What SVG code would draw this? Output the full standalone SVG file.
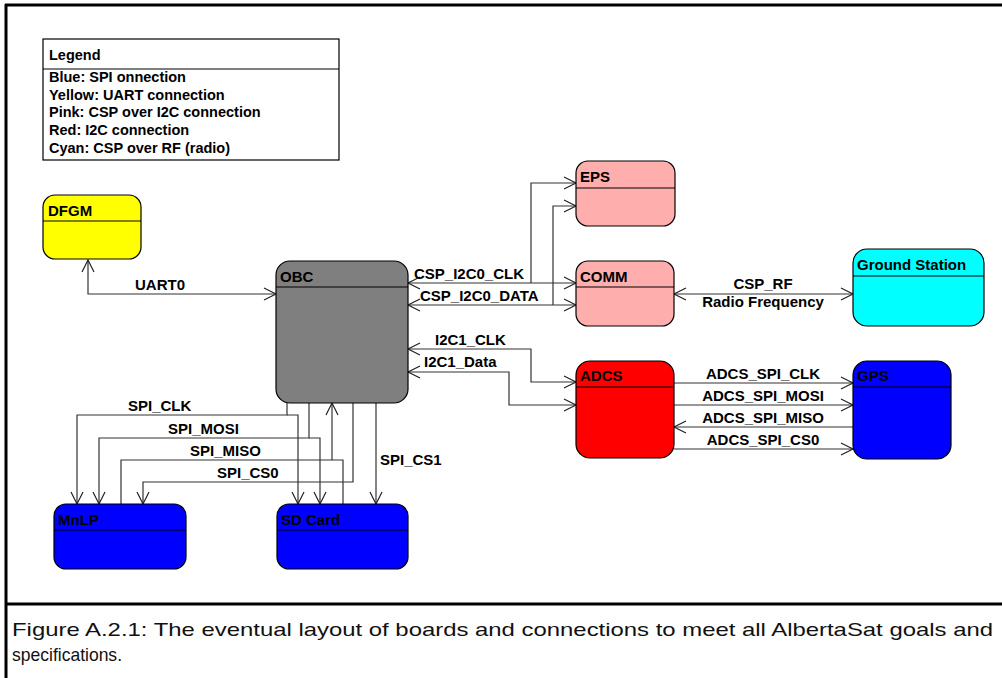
<svg xmlns="http://www.w3.org/2000/svg" width="1002" height="678" viewBox="0 0 1002 678">
  <style>
    .node rect { stroke: #000; stroke-width: 1.2; }
    .node line { stroke: #000; stroke-width: 1.2; }
    .ttl { font-family: "Liberation Sans", Arial, sans-serif; font-size: 15px; font-weight: bold; fill: #000; }
    .lbl { font-family: "Liberation Sans", Arial, sans-serif; font-size: 15px; font-weight: bold; fill: #000; }
    .lgd { font-family: "Liberation Sans", Arial, sans-serif; font-size: 14.5px; font-weight: bold; fill: #000; }
    .cap { font-family: "Liberation Sans", Arial, sans-serif; font-size: 19px; fill: #111; }
    .wire { fill: none; stroke: #333; stroke-width: 1.2; }
    .frame { stroke: #000; stroke-width: 3; fill: none; }
  </style>
  <defs>
    <marker id="arr" markerUnits="userSpaceOnUse" markerWidth="16" markerHeight="16" refX="13" refY="7" orient="auto-start-reverse">
      <path d="M1,1 L13,7 L1,13" fill="none" stroke="#222" stroke-width="1.2"/>
    </marker>
  </defs>

  <rect x="0" y="0" width="1002" height="678" fill="#fff"/>

  <!-- page frame -->
  <g id="frame">
    <line class="frame" x1="5" y1="5" x2="1002" y2="5"/>
    <line class="frame" x1="6" y1="4" x2="6" y2="678"/>
    <line class="frame" x1="6" y1="604" x2="1002" y2="604"/>
  </g>

  <!-- legend -->
  <g id="legend">
    <rect x="43" y="39" width="296" height="121" fill="#fff" stroke="#000" stroke-width="1.2"/>
    <line x1="43" y1="69" x2="339" y2="69" stroke="#000" stroke-width="1.2"/>
    <text class="lgd" x="49" y="60">Legend</text>
    <text class="lgd" x="49" y="82">Blue: SPI onnection</text>
    <text class="lgd" x="49" y="100">Yellow: UART connection</text>
    <text class="lgd" x="49" y="117">Pink: CSP over I2C connection</text>
    <text class="lgd" x="49" y="135">Red: I2C connection</text>
    <text class="lgd" x="49" y="153">Cyan: CSP over RF (radio)</text>
  </g>

  <!-- connectors -->
  <g id="connectors">
    <!-- UART0 -->
    <polyline class="wire" points="88,260 88,294 276,294" marker-start="url(#arr)" marker-end="url(#arr)"/>
    <text class="lbl" x="135" y="290">UART0</text>

    <!-- CSP over I2C: OBC / COMM / EPS -->
    <line class="wire" x1="408" y1="283" x2="576" y2="283" marker-start="url(#arr)" marker-end="url(#arr)"/>
    <polyline class="wire" points="531,283 531,183 576,183" marker-end="url(#arr)"/>
    <line class="wire" x1="408" y1="305" x2="576" y2="305" marker-start="url(#arr)" marker-end="url(#arr)"/>
    <polyline class="wire" points="553,305 553,206 576,206" marker-end="url(#arr)"/>
    <text class="lbl" x="414" y="279">CSP_I2C0_CLK</text>
    <text class="lbl" x="420" y="301">CSP_I2C0_DATA</text>

    <!-- CSP over RF -->
    <line class="wire" x1="674" y1="294" x2="853" y2="294" marker-start="url(#arr)" marker-end="url(#arr)"/>
    <text class="lbl" x="763" y="289" text-anchor="middle">CSP_RF</text>
    <text class="lbl" x="763" y="307" text-anchor="middle">Radio Frequency</text>

    <!-- I2C1 to ADCS -->
    <polyline class="wire" points="408,349 531,349 531,382 576,382" marker-start="url(#arr)" marker-end="url(#arr)"/>
    <polyline class="wire" points="408,372 509,372 509,405 576,405" marker-start="url(#arr)" marker-end="url(#arr)"/>
    <text class="lbl" x="435" y="345">I2C1_CLK</text>
    <text class="lbl" x="424" y="367">I2C1_Data</text>

    <!-- ADCS SPI to GPS -->
    <line class="wire" x1="674" y1="383" x2="853" y2="383" marker-end="url(#arr)"/>
    <line class="wire" x1="674" y1="405" x2="853" y2="405" marker-end="url(#arr)"/>
    <line class="wire" x1="853" y1="427" x2="674" y2="427" marker-end="url(#arr)"/>
    <line class="wire" x1="674" y1="449" x2="853" y2="449" marker-end="url(#arr)"/>
    <text class="lbl" x="763" y="379" text-anchor="middle">ADCS_SPI_CLK</text>
    <text class="lbl" x="763" y="401" text-anchor="middle">ADCS_SPI_MOSI</text>
    <text class="lbl" x="763" y="423" text-anchor="middle">ADCS_SPI_MISO</text>
    <text class="lbl" x="763" y="445" text-anchor="middle">ADCS_SPI_CS0</text>

    <!-- OBC SPI bus to MnLP and SD Card -->
    <polyline class="wire" points="287,403 287,415 77,415 77,504" marker-end="url(#arr)"/>
    <polyline class="wire" points="287,415 298,415 298,504" marker-end="url(#arr)"/>
    <polyline class="wire" points="309,403 309,438 99,438 99,504" marker-end="url(#arr)"/>
    <polyline class="wire" points="309,438 320,438 320,504" marker-end="url(#arr)"/>
    <polyline class="wire" points="121,504 121,460 343,460 343,504"/>
    <line class="wire" x1="332" y1="460" x2="332" y2="403" marker-end="url(#arr)"/>
    <polyline class="wire" points="353,403 353,482 143,482 143,504" marker-end="url(#arr)"/>
    <line class="wire" x1="376" y1="403" x2="376" y2="504" marker-end="url(#arr)"/>
    <text class="lbl" x="128" y="411">SPI_CLK</text>
    <text class="lbl" x="168" y="434">SPI_MOSI</text>
    <text class="lbl" x="190" y="456">SPI_MISO</text>
    <text class="lbl" x="217" y="478">SPI_CS0</text>
    <text class="lbl" x="380" y="465">SPI_CS1</text>
  </g>

  <!-- nodes -->
  <g id="dfgm" class="node">
    <rect x="43" y="195" width="98" height="64" rx="12" fill="#ffff00"/>
    <line x1="43" y1="221" x2="141" y2="221"/>
    <text class="ttl" x="48" y="216">DFGM</text>
  </g>

  <g id="obc" class="node">
    <rect x="276" y="261" width="132" height="142" rx="14" fill="#7f7f7f"/>
    <line x1="276" y1="287" x2="408" y2="287"/>
    <text class="ttl" x="280" y="282">OBC</text>
  </g>

  <g id="eps" class="node">
    <rect x="576" y="161" width="99" height="65" rx="12" fill="#ffaeae"/>
    <line x1="576" y1="188" x2="675" y2="188"/>
    <text class="ttl" x="580" y="182">EPS</text>
  </g>

  <g id="comm" class="node">
    <rect x="576" y="261" width="98" height="65" rx="12" fill="#ffaeae"/>
    <line x1="576" y1="287" x2="674" y2="287"/>
    <text class="ttl" x="580" y="282">COMM</text>
  </g>

  <g id="ground-station" class="node">
    <rect x="853" y="249" width="131" height="77" rx="14" fill="#00ffff"/>
    <line x1="853" y1="276" x2="984" y2="276"/>
    <text class="ttl" x="857" y="270">Ground Station</text>
  </g>

  <g id="adcs" class="node">
    <rect x="576" y="361" width="98" height="97" rx="14" fill="#ff0000"/>
    <line x1="576" y1="387" x2="674" y2="387"/>
    <text class="ttl" x="580" y="381">ADCS</text>
  </g>

  <g id="gps" class="node">
    <rect x="853" y="361" width="98" height="98" rx="14" fill="#0000ff"/>
    <line x1="853" y1="387" x2="951" y2="387"/>
    <text class="ttl" x="857" y="381">GPS</text>
  </g>

  <g id="mnlp" class="node">
    <rect x="54" y="504" width="132" height="65" rx="12" fill="#0000ff"/>
    <line x1="54" y1="530" x2="186" y2="530"/>
    <text class="ttl" x="58" y="525">MnLP</text>
  </g>

  <g id="sd-card" class="node">
    <rect x="277" y="504" width="131" height="65" rx="12" fill="#0000ff"/>
    <line x1="277" y1="530" x2="408" y2="530"/>
    <text class="ttl" x="281" y="525">SD Card</text>
  </g>

  <!-- caption -->
  <g id="caption">
    <text class="cap" x="12" y="636" textLength="981" lengthAdjust="spacingAndGlyphs">Figure A.2.1: The eventual layout of boards and connections to meet all AlbertaSat goals and</text>
    <text class="cap" x="12" y="661" textLength="110" lengthAdjust="spacingAndGlyphs">specifications.</text>
  </g>
</svg>
